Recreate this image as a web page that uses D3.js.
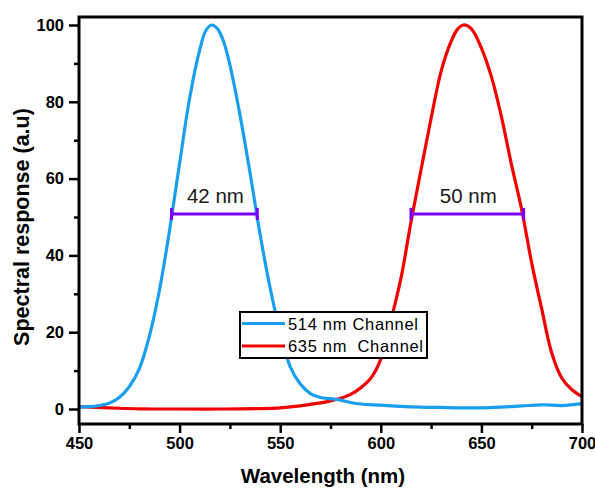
<!DOCTYPE html>
<html><head><meta charset="utf-8">
<script src="https://cdn.jsdelivr.net/npm/d3@7/dist/d3.min.js"></script>
<style>body{margin:0;background:#fff}svg{display:block}</style>
</head><body>
<svg id="c" width="595" height="488"></svg>
<script>
const blueWl  = [450,455,460,465,470,475,480,485,490,495,500,505,510,513,516,519,522,525,530,535,540,545,550,555,560,565,570,575,580,585,590,600,610,620,630,640,650,660,670,680,690,700];
const blueVal = [0.5,0.6,0.9,1.5,3,5.8,10.5,19,31,46.5,64,81,93.5,98.5,100,98.9,95.5,89.6,76.6,61.5,45.5,31.5,20,11,6.5,4,3,2.7,2.3,1.7,1.3,1,0.7,0.5,0.4,0.3,0.3,0.5,0.8,1.1,0.9,1.4];
const redWl   = [450,460,470,480,490,500,520,540,550,560,565,570,575,580,585,590,595,600,605,610,615,620,625,630,635,638,641,645,650,655,660,665,670,675,680,685,690,695,700];
const redVal  = [0.6,0.4,0.2,0.05,0,0,0,0.1,0.3,0.8,1.2,1.6,2.1,2.8,3.8,5.5,8,13,23,34,48.7,62.3,75.7,88,95.8,98.8,100,99,94,86.5,76,63.5,52,38,26,14.5,8,5,3.2];
const seriesNames = ["514 nm Channel","635 nm  Channel"];
const seriesColors = ["#1a9ff0","#f20000"];
const fwhmY  = [50.8, 50.8];
const fwhmX1 = [496, 615];
const fwhmX2 = [538.6, 671];
const fwhmLabels = ["42 nm","50 nm"];
const xTicks = [450,500,550,600,650,700];
const yTicks = [0,20,40,60,80,100];

const svg = d3.select("#c");
const L=79,R=582,T=17,B=424;
const x = d3.scaleLinear().domain([450,700]).range([L,R]);
const y = d3.scaleLinear().domain([0,100]).range([409,25]);
const font = "'Liberation Sans', Arial, sans-serif";

const line = d3.line().x(d=>x(d[0])).y(d=>y(d[1])).curve(d3.curveCatmullRom.alpha(0.5));
const series = [d3.zip(blueWl,blueVal), d3.zip(redWl,redVal)];
svg.append("clipPath").attr("id","pc").append("rect").attr("x",L).attr("y",T).attr("width",R-L).attr("height",B-T);
const g = svg.append("g").attr("clip-path","url(#pc)");
[1,0].forEach(i=>{
  g.append("path").datum(series[i]).attr("d",line).attr("fill","none")
   .attr("stroke",seriesColors[i]).attr("stroke-width",3.2).attr("stroke-linejoin","round");
});

fwhmY.forEach((v,i)=>{
  const yy=y(v), a=x(fwhmX1[i]), b=x(fwhmX2[i]);
  svg.append("line").attr("x1",a).attr("x2",b).attr("y1",yy).attr("y2",yy).attr("stroke","#7b00f5").attr("stroke-width",3);
  [a,b].forEach(xx=>svg.append("line").attr("x1",xx).attr("x2",xx).attr("y1",yy-6).attr("y2",yy+6).attr("stroke","#7b00f5").attr("stroke-width",3));
  svg.append("text").attr("x",(a+b)/2+1).attr("y",yy-11).attr("text-anchor","middle")
    .attr("font-family",font).attr("font-size",20.5).attr("fill","#1a1a1a").text(fwhmLabels[i]);
});

const xAxis = d3.axisBottom(x).tickValues(xTicks).tickSize(9).tickPadding(4).tickFormat(d3.format("d"));
const xMinor = d3.axisBottom(x).tickValues(d3.range(475,700,50)).tickSize(5).tickFormat("");
const yAxis = d3.axisLeft(y).tickValues(yTicks).tickSize(10).tickPadding(5).tickFormat(d3.format("d"));
const yMinor = d3.axisLeft(y).tickValues(d3.range(10,100,20)).tickSize(5).tickFormat("");
function style(sel){
  sel.select(".domain").remove();
  sel.selectAll("line").attr("stroke","#000").attr("stroke-width",2.5);
  sel.selectAll("text").attr("font-family",font).attr("font-weight","bold").attr("font-size",16.5).attr("fill","#000");
}
svg.append("g").attr("transform",`translate(0,${B})`).call(xAxis).call(style);
svg.append("g").attr("transform",`translate(0,${B})`).call(xMinor).call(style);
svg.append("g").attr("transform",`translate(${L},0)`).call(yAxis).call(style);
svg.append("g").attr("transform",`translate(${L},0)`).call(yMinor).call(style);

svg.append("rect").attr("x",L).attr("y",T).attr("width",R-L).attr("height",B-T)
  .attr("fill","none").attr("stroke","#000").attr("stroke-width",3);

svg.append("text").attr("x",323).attr("y",483).attr("text-anchor","middle")
  .attr("font-family",font).attr("font-weight","bold").attr("font-size",20.5).text("Wavelength (nm)");
svg.append("text").attr("transform",`translate(29,227) rotate(-90)`).attr("text-anchor","middle")
  .attr("font-family",font).attr("font-weight","bold").attr("font-size",21.5).text("Spectral response (a.u)");

const lg = svg.append("g");
lg.append("rect").attr("x",240).attr("y",312).attr("width",187).attr("height",46)
  .attr("fill","#fff").attr("stroke","#000").attr("stroke-width",2);
const legendLen = [130,135];
seriesNames.forEach((n,i)=>{
  const yy = 323.5 + i*22.5;
  lg.append("line").attr("x1",242).attr("x2",285).attr("y1",yy).attr("y2",yy).attr("stroke",seriesColors[i]).attr("stroke-width",3);
  lg.append("text").attr("x",288).attr("y",yy+6).attr("font-family",font).attr("font-size",16.5)
    .attr("textLength",legendLen[i]).attr("lengthAdjust","spacing")
    .attr("xml:space","preserve").style("white-space","pre").text(n);
});
</script>
</body></html>
